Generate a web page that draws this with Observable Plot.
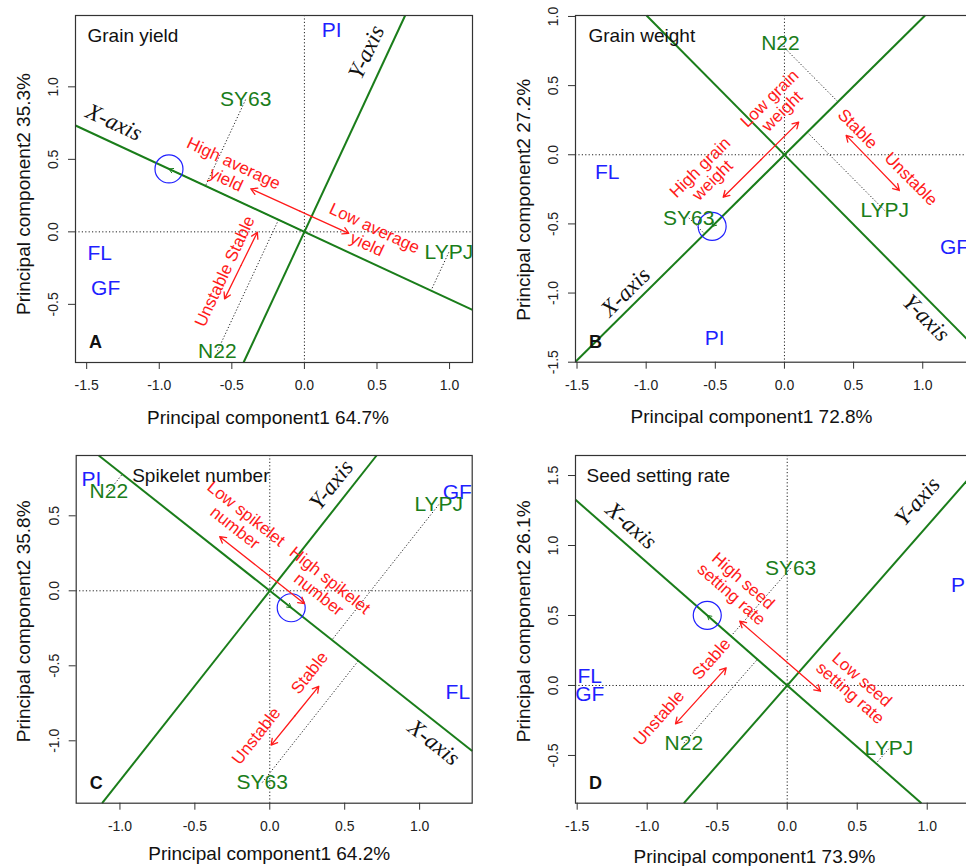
<!DOCTYPE html>
<html>
<head>
<meta charset="utf-8">
<script src="https://cdn.jsdelivr.net/npm/d3@7"></script>
<script src="https://cdn.jsdelivr.net/npm/@observablehq/plot@0.6"></script>
<style>
  html, body { margin: 0; padding: 0; background: #fff; }
  body { width: 966px; height: 866px; overflow: hidden; position: relative; }
  #root { position: relative; width: 966px; height: 866px; overflow: hidden; }
</style>
</head>
<body>
<div id="root"></div>
<script>
// ---------- DATA ----------
const genotypes = ["SY63", "N22", "LYPJ"];        // green labels (projected)
const environments = ["PI", "FL", "GF"];          // blue labels

// Panel A – Grain yield
const yieldNames = ["PI", "SY63", "FL", "GF", "N22", "LYPJ"];
const yieldPC1 = [0.187, -0.405, -1.410, -1.369, -0.600, 0.995];
const yieldPC2 = [1.388, 0.912, -0.148, -0.386, -0.823, -0.141];
const yieldAEC = [-0.933, 0.434];
const yieldArrows = [[-0.369, 0.297, 0.306, -0.010], [-0.324, -0.003, -0.550, -0.462]];
const yieldNotes = ["High average\nyield", "Low average\nyield", "Unstable Stable"];
const yieldNoteX = [-0.513, 0.458, -0.550];
const yieldNoteY = [0.418, -0.030, -0.272];
const yieldNoteDir = ["x", "x", "y"];
const yieldAxisLabX = [-1.312, 0.426];
const yieldAxisLabY = [0.756, 1.239];
const yieldXTicks = [-1.5, -1.0, -0.5, 0.0, 0.5, 1.0];
const yieldYTicks = [-0.5, 0.0, 0.5, 1.0];

// Panel B – Grain weight
const weightNames = ["N22", "FL", "SY63", "LYPJ", "PI", "GF"];
const weightPC1 = [-0.029, -1.282, -0.692, 0.725, -0.504, 1.23];
const weightPC2 = [0.803, -0.126, -0.456, -0.403, -1.330, -0.668];
const weightAEC = [-0.523, -0.518];
const weightArrows = [[-0.443, -0.307, 0.103, 0.236], [0.446, 0.140, 0.831, -0.258]];
const weightNotes = ["High grain\nweight", "Low grain\nweight", "Stable", "Unstable"];
const weightNoteX = [-0.566, -0.063, 0.530, 0.916];
const weightNoteY = [-0.137, 0.362, 0.188, -0.174];
const weightNoteDir = ["x", "x", "y", "y"];
const weightAxisLabX = [-1.150, 1.025];
const weightAxisLabY = [-0.993, -1.179];
const weightXTicks = [-1.5, -1.0, -0.5, 0.0, 0.5, 1.0];
const weightYTicks = [-1.5, -1.0, -0.5, 0.0, 0.5, 1.0];

// Panel C – Spikelet number
const spikeNames = ["PI", "N22", "GF", "LYPJ", "FL", "SY63"];
const spikePC1 = [-1.19, -1.074, 1.251, 1.128, 1.255, -0.05];
const spikePC2 = [0.746, 0.664, 0.657, 0.575, -0.675, -1.278];
const spikeAEC = [0.143, -0.113];
const spikeArrows = [[-0.334, 0.361, 0.232, -0.086], [0.327, -0.637, 0.009, -1.029]];
const spikeNotes = ["Low spikelet\nnumber", "High spikelet\nnumber", "Stable", "Unstable"];
const spikeNoteX = [-0.194, 0.365, 0.265, -0.091];
const spikeNoteY = [0.468, 0.024, -0.546, -0.967];
const spikeNoteDir = ["x", "x", "y", "y"];
const spikeAxisLabX = [1.095, 0.410];
const spikeAxisLabY = [-1.011, 0.707];
const spikeXTicks = [-1.0, -0.5, 0.0, 0.5, 1.0];
const spikeYTicks = [-1.0, -0.5, 0.0, 0.5];

// Panel D – Seed setting rate
const seedNames = ["SY63", "PI", "FL", "GF", "N22", "LYPJ"];
const seedPC1 = [0.024, 1.24, -1.41, -1.41, -0.738, 0.726];
const seedPC2 = [0.838, 0.714, 0.064, -0.06, -0.412, -0.452];
const seedAEC = [-0.571, 0.501];
const seedArrows = [[-0.339, 0.459, 0.238, -0.041], [-0.436, 0.126, -0.798, -0.274]];
const seedNotes = ["High seed\nsetting rate", "Low seed\nsetting rate", "Stable", "Unstable"];
const seedNoteX = [-0.355, 0.493, -0.543, -0.917];
const seedNoteY = [0.70, -0.005, 0.191, -0.231];
const seedNoteDir = ["x", "x", "y", "y"];
const seedAxisLabX = [-1.114, 0.929];
const seedAxisLabY = [1.143, 1.316];
const seedXTicks = [-1.5, -1.0, -0.5, 0.0, 0.5, 1.0];
const seedYTicks = [-0.5, 0.0, 0.5, 1.0, 1.5];

// ---------- STYLE ----------
const GREEN = "#1a7d1a";
const BLUE = "#1f1fff";
const RED = "#ff1a1a";
const SANS = "'Liberation Sans', Arial, sans-serif";
const SERIF = "'Liberation Serif', 'Times New Roman', serif";

function panelPlot(p) {
  const {width, height, ml, mt, mr, mb, xDomain, yDomain} = p;
  const pts = p.names.map((n, i) => ({name: n, x: p.pc1[i], y: p.pc2[i], geno: genotypes.includes(n)}));
  const [ax, ay] = p.aec;
  const m = ay / ax;
  const nrm = Math.hypot(1, m), ux = 1 / nrm, uy = m / nrm;
  const proj = pts.filter(d => d.geno).map(d => {
    const t = d.x * ux + d.y * uy;
    return {x1: d.x, y1: d.y, x2: t * ux, y2: t * uy};
  });
  const seg = s => {
    const a = yDomain[0] / s, b = yDomain[1] / s;
    const lo = Math.max(xDomain[0], Math.min(a, b)), hi = Math.min(xDomain[1], Math.max(a, b));
    return {x1: lo, y1: s * lo, x2: hi, y2: s * hi};
  };
  const atc = [seg(m), seg(-1 / m)];
  const kx = (width - ml - mr) / (xDomain[1] - xDomain[0]);
  const ky = (height - mt - mb) / (yDomain[1] - yDomain[0]);
  const ang = s => -Math.atan(s * ky / kx) * 180 / Math.PI;
  const angX = ang(m), angY = ang(-1 / m);
  const halves = p.arrows.flatMap(([x1, y1, x2, y2]) => {
    const mx = (x1 + x2) / 2, my = (y1 + y2) / 2;
    return [{x1: mx, y1: my, x2: x1, y2: y1}, {x1: mx, y1: my, x2: x2, y2: y2}];
  });
  const notes = p.notes.map((t, i) => ({text: t, x: p.noteX[i], y: p.noteY[i], rot: p.noteDir[i] === "x" ? angX : angY}));
  const axisLabs = [
    {text: "X-axis", x: p.axisLabX[0], y: p.axisLabY[0], rot: angX},
    {text: "Y-axis", x: p.axisLabX[1], y: p.axisLabY[1], rot: angY}
  ];
  return Plot.plot({
    width, height,
    marginLeft: ml, marginTop: mt, marginRight: mr, marginBottom: mb,
    x: {domain: xDomain, axis: null},
    y: {domain: yDomain, axis: null},
    style: {fontFamily: SANS, fontSize: "14px", background: "transparent", overflow: "visible", color: "#222"},
    marks: [
      Plot.ruleX([0], {stroke: "#222", strokeWidth: 1, strokeDasharray: "1.2,2.2"}),
      Plot.ruleY([0], {stroke: "#222", strokeWidth: 1, strokeDasharray: "1.2,2.2"}),
      Plot.link(proj, {x1: "x1", y1: "y1", x2: "x2", y2: "y2", stroke: "#222", strokeWidth: 1, strokeDasharray: "1.2,2"}),
      Plot.link(atc, {x1: "x1", y1: "y1", x2: "x2", y2: "y2", stroke: GREEN, strokeWidth: 2}),
      Plot.arrow([{x1: 0, y1: 0, x2: ax, y2: ay}], {x1: "x1", y1: "y1", x2: "x2", y2: "y2", stroke: GREEN, strokeWidth: 1, headLength: 7}),
      Plot.dot([{x: ax, y: ay}], {x: "x", y: "y", r: 14, stroke: BLUE, fill: "none", strokeWidth: 1.2}),
      Plot.arrow(halves, {x1: "x1", y1: "y1", x2: "x2", y2: "y2", stroke: RED, strokeWidth: 1.3, headLength: 8}),
      Plot.text(notes, {x: "x", y: "y", text: "text", rotate: "rot", fill: RED, fontSize: 17, lineHeight: 1.05}),
      Plot.text(axisLabs, {x: "x", y: "y", text: "text", rotate: "rot", fill: "#111", fontSize: 23, fontFamily: SERIF, fontStyle: "italic"}),
      Plot.text(pts, {x: "x", y: "y", text: "name", fill: d => d.geno ? GREEN : BLUE, fontSize: 21}),
      Plot.text([p.title], {text: d => d, frameAnchor: "top-left", dx: p.titleDx, dy: 20, textAnchor: "start", lineAnchor: "middle", fontSize: 19, fill: "#111"}),
      Plot.text([p.letter], {text: d => d, frameAnchor: "bottom-left", dx: 20, dy: -20, textAnchor: "middle", lineAnchor: "middle", fontSize: 18, fontWeight: "bold", fill: "#111"}),
      Plot.axisX({ticks: p.xTicks, tickSize: 7, tickPadding: 11, tickFormat: d => d.toFixed(1), fontSize: 14, stroke: "#333", fill: "#222", label: null}),
      Plot.axisY({ticks: p.yTicks, tickSize: 7, tickFormat: () => "", stroke: "#333", label: null}),
      Plot.text(p.yTicks, {y: d => d, text: d => d.toFixed(1), frameAnchor: "left", dx: -22, rotate: -90, textAnchor: "middle", lineAnchor: "middle", fontSize: 14, fill: "#222"}),
      Plot.text([p.xLabel], {text: d => d, frameAnchor: "bottom", dx: p.xLabDx, dy: p.xLabDy, textAnchor: "middle", lineAnchor: "middle", fontSize: 19, fill: "#111"}),
      Plot.text([p.yLabel], {text: d => d, frameAnchor: "left", dx: -52, dy: p.yLabDy, rotate: -90, textAnchor: "middle", lineAnchor: "middle", fontSize: 19, fill: "#111"}),
      Plot.frame({stroke: "#333", strokeWidth: 1.2})
    ]
  });
}

const panels = [
  {left: 0, top: 0, width: 483, height: 430, ml: 75, mt: 15, mr: 11, mb: 68,
   xDomain: [-1.577, 1.158], yDomain: [-0.901, 1.492],
   names: yieldNames, pc1: yieldPC1, pc2: yieldPC2, aec: yieldAEC, arrows: yieldArrows,
   notes: yieldNotes, noteX: yieldNoteX, noteY: yieldNoteY, noteDir: yieldNoteDir,
   axisLabX: yieldAxisLabX, axisLabY: yieldAxisLabY, xTicks: yieldXTicks, yTicks: yieldYTicks,
   title: "Grain yield", titleDx: 12, letter: "A",
   xLabel: "Principal component1 64.7%", yLabel: "Principal component2 35.3%", xLabDx: -6, xLabDy: 55, yLabDy: 5},
  {left: 483, top: 0, width: 500, height: 430, ml: 92, mt: 15, mr: 6, mb: 68.3,
   xDomain: [-1.511, 1.396], yDomain: [-1.5, 1.007],
   names: weightNames, pc1: weightPC1, pc2: weightPC2, aec: weightAEC, arrows: weightArrows,
   notes: weightNotes, noteX: weightNoteX, noteY: weightNoteY, noteDir: weightNoteDir,
   axisLabX: weightAxisLabX, axisLabY: weightAxisLabY, xTicks: weightXTicks, yTicks: weightYTicks,
   title: "Grain weight", titleDx: 13, letter: "B",
   xLabel: "Principal component1 72.8%", yLabel: "Principal component2 27.2%", xLabDx: -25, xLabDy: 55, yLabDy: 11},
  {left: 0, top: 430, width: 483, height: 436, ml: 75.7, mt: 25, mr: 11.3, mb: 63.3,
   xDomain: [-1.292, 1.351], yDomain: [-1.416, 0.902],
   names: spikeNames, pc1: spikePC1, pc2: spikePC2, aec: spikeAEC, arrows: spikeArrows,
   notes: spikeNotes, noteX: spikeNoteX, noteY: spikeNoteY, noteDir: spikeNoteDir,
   axisLabX: spikeAxisLabX, axisLabY: spikeAxisLabY, xTicks: spikeXTicks, yTicks: spikeYTicks,
   title: "Spikelet number", titleDx: 56, letter: "C",
   xLabel: "Principal component1 64.2%", yLabel: "Principal component2 35.8%", xLabDx: -5, xLabDy: 51, yLabDy: -8},
  {left: 483, top: 430, width: 500, height: 436, ml: 92, mt: 25, mr: 6, mb: 63.3,
   xDomain: [-1.512, 1.359], yDomain: [-0.841, 1.643],
   names: seedNames, pc1: seedPC1, pc2: seedPC2, aec: seedAEC, arrows: seedArrows,
   notes: seedNotes, noteX: seedNoteX, noteY: seedNoteY, noteDir: seedNoteDir,
   axisLabX: seedAxisLabX, axisLabY: seedAxisLabY, xTicks: seedXTicks, yTicks: seedYTicks,
   title: "Seed setting rate", titleDx: 11, letter: "D",
   xLabel: "Principal component1 73.9%", yLabel: "Principal component2 26.1%", xLabDx: -22, xLabDy: 54, yLabDy: -8}
];

const root = document.getElementById("root");
for (const p of panels) {
  const svg = panelPlot(p);
  svg.style.position = "absolute";
  svg.style.left = p.left + "px";
  svg.style.top = p.top + "px";
  root.appendChild(svg);
}
</script>
</body>
</html>
